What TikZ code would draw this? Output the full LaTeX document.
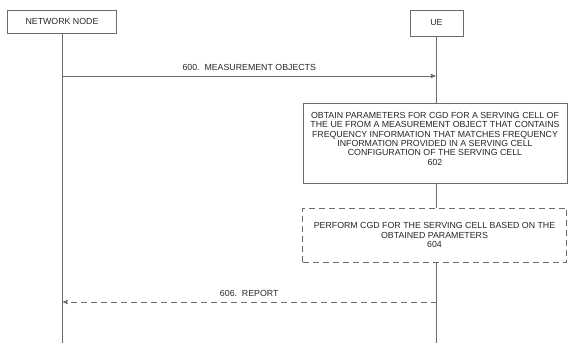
\documentclass[tikz,border=0pt]{standalone}
\usepackage{fontspec}
\setmainfont{Liberation Sans}
\usetikzlibrary{positioning,arrows,calc}
\definecolor{linegray}{gray}{0.42}
\definecolor{textgray}{gray}{0.15}
\tikzset{>=stealth',
x=1pt,y=1pt,
lbl/.style={font=\fontsize{8.8}{9.4}\selectfont,text=textgray},
el/.style={lbl,above=2pt},
ent/.style={rectangle,draw=linegray,line width=0.6pt,lbl,minimum height=23pt,inner sep=1mm},
life/.style={draw=linegray,line width=0.8pt},
msg/.style={->,draw=linegray,line width=0.8pt,shorten >=1pt},
ret/.style={msg,dash pattern=on 6pt off 4pt},
actbox/.style={rectangle,draw=linegray,line width=0.6pt,fill=white,lbl,align=center,
  minimum width=264pt,minimum height=80pt,inner sep=1mm},
optbox/.style={actbox,dash pattern=on 6pt off 4pt,minimum height=54pt},
}
\begin{document}
\begin{tikzpicture}
\useasboundingbox (0,0) rectangle (568,343);
\node[ent,minimum width=109pt] (nn) at (62,321.5) {NETWORK NODE};
\node[ent,minimum width=53pt,minimum height=26pt] (ue) at (436.5,320) {UE};
\node[actbox] (s602) at (435,200) {OBTAIN PARAMETERS FOR CGD FOR A SERVING CELL OF\\
THE UE FROM A MEASUREMENT OBJECT THAT CONTAINS\\
FREQUENCY INFORMATION THAT MATCHES FREQUENCY\\
INFORMATION PROVIDED IN A SERVING CELL\\
CONFIGURATION OF THE SERVING CELL\\
602\\[-1pt]};
\node[optbox] (s604) at (434.5,108) {PERFORM CGD FOR THE SERVING CELL BASED ON THE\\
OBTAINED PARAMETERS\\
604};
\coordinate (nnend) at (nn.south |- 0,0);
\coordinate (ueend) at (ue.south |- 0,0);
\coordinate (nn600) at (nn.south |- 0,267);
\coordinate (ue600) at (ue.south |- 0,267);
\coordinate (nn606) at (nn.south |- 0,41);
\coordinate (ue606) at (ue.south |- 0,41);

% lifelines
\draw[life] (nn.south) -- (nnend);
\draw[life] (ue.south) -- (ue.south |- s602.north);
\draw[life] (ue.south |- s602.south) -- (ue.south |- s604.north);
\draw[life] (ue.south |- s604.south) -- (ueend);

% messages
\path
(nn600) edge[msg] node[el] {600.\ \ MEASUREMENT OBJECTS} (ue600)
(ue606) edge[ret] node[el] {606.\ \ REPORT} (nn606)
;
\end{tikzpicture}
\end{document}
